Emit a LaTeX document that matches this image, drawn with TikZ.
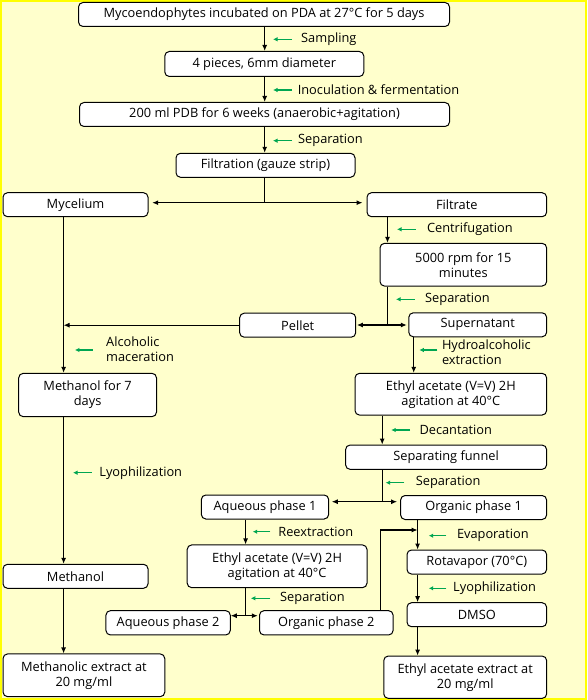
\documentclass[tikz,border=0pt]{standalone}
\usepackage{fontspec}
\setmainfont{Open Sans}
\usetikzlibrary{arrows.meta}
\definecolor{bgyellow}{HTML}{FFFFCC}
\definecolor{edgeyellow}{HTML}{FFFF00}
\definecolor{arrowgreen}{HTML}{00A651}
\tikzset{
  box/.style={draw=black, fill=white, rounded corners=4.5pt, line width=1pt, align=center, inner sep=0pt,
    font=\fontsize{12.8}{15}\selectfont},
  lab/.style={anchor=west, inner sep=0pt, align=left, font=\fontsize{12.8}{14.5}\selectfont},
  conn/.style={line width=1.1pt, draw=black},
  arr/.style={conn, -{Latex[length=6pt,width=5pt]}},
  darr/.style={conn, {Latex[length=6pt,width=5pt]}-{Latex[length=6pt,width=5pt]}},
  garr/.style={draw=arrowgreen, line width=1.2pt, -{Latex[length=4.5pt,width=4.5pt]}},
}
\begin{document}
\begin{tikzpicture}[x=1pt,y=-1pt]
\useasboundingbox (0,0) rectangle (587,700);
\fill[bgyellow] (0,0) rectangle (587,700);
\draw[edgeyellow, line width=2.2pt] (1.1,1.1) rectangle (585.9,698.9);

% boxes
\node[box, minimum width=371pt, minimum height=24pt] (b1) at (264,14.5) {Mycoendophytes incubated on PDA at 27°C for 5 days};
\node[box, minimum width=199pt, minimum height=25pt] (b2) at (264.3,64) {4 pieces, 6mm diameter};
\node[box, minimum width=370pt, minimum height=24pt] (b3) at (264.5,114.5) {200 ml PDB for 6 weeks (anaerobic+agitation)};
\node[box, minimum width=179pt, minimum height=24pt] (b4) at (265.5,165.3) {Filtration (gauze strip)};
\node[box, minimum width=145pt, minimum height=24pt] (myc) at (75.5,204.7) {Mycelium};
\node[box, minimum width=179.6pt, minimum height=24pt] (filt) at (456.8,204.7) {Filtrate};
\node[box, minimum width=166.6pt, minimum height=42.7pt] (cent) at (463.3,264.7) {5000 rpm for 15\\minutes};
\node[box, minimum width=116pt, minimum height=24pt] (pel) at (297.7,325.2) {Pellet};
\node[box, minimum width=137.8pt, minimum height=24pt] (sup) at (477.7,324.8) {Supernatant};
\node[box, minimum width=137.8pt, minimum height=43.3pt] (m7) at (87.6,395) {Methanol for 7\\days};
\node[box, minimum width=191.6pt, minimum height=41.7pt] (eth1) at (450.8,394.2) {Ethyl acetate (V=V) 2H\\agitation at 40°C};
\node[box, minimum width=201pt, minimum height=24.3pt] (sepf) at (446.1,457.2) {Separating funnel};
\node[box, minimum width=127.3pt, minimum height=24pt] (aq1) at (265,507) {Aqueous phase 1};
\node[box, minimum width=146pt, minimum height=24pt] (org1) at (473.6,507.5) {Organic phase 1};
\node[box, minimum width=179.8pt, minimum height=42.7pt] (eth2) at (277.1,566.3) {Ethyl acetate (V=V) 2H\\agitation at 40°C};
\node[box, minimum width=124.3pt, minimum height=24.3pt] (aq2) at (168.1,622.8) {Aqueous phase 2};
\node[box, minimum width=133.6pt, minimum height=24.3pt] (org2) at (326.3,622.8) {Organic phase 2};
\node[box, minimum width=139.6pt, minimum height=24pt] (rot) at (476.8,562) {Rotavapor (70°C)};
\node[box, minimum width=139.6pt, minimum height=24pt] (dmso) at (476.8,614.7) {DMSO};
\node[box, minimum width=145pt, minimum height=24pt] (meth) at (75.5,576.3) {Methanol};
\node[box, minimum width=161.7pt, minimum height=42.7pt] (methx) at (83.9,675.3) {Methanolic extract at\\20 mg/ml};
\node[box, minimum width=162.9pt, minimum height=42.3pt] (ethx) at (465.2,677.2) {Ethyl acetate extract at\\20 mg/ml};

% x positions of vertical connectors
\coordinate (cx) at (264.7,0);
\coordinate (mx) at (63.6,0);
\coordinate (fx) at (387.5,0);
\coordinate (sx) at (413.7,0);
\coordinate (dx) at (382.2,0);
\coordinate (ax) at (245.6,0);
\coordinate (ox) at (417.6,0);
\coordinate (px) at (380.8,0);
% junctions
\coordinate (j1) at (264.7,202.7);
\coordinate (j2) at (387.5,325);
\coordinate (j3) at (382.2,501.7);
\coordinate (j4) at (245.6,615.7);
\coordinate (j5) at (380.8,530);

% main column
\draw[arr] (b1.south -| cx) -- (b2.north -| cx);
\draw[arr] (b2.south -| cx) -- (b3.north -| cx);
\draw[arr] (b3.south -| cx) -- (b4.north -| cx);
\draw[conn] (b4.south -| cx) -- (j1);
\draw[darr] ([xshift=3.7pt]myc.east |- j1) -- ([xshift=-4pt]filt.west |- j1);

% filtrate branch
\draw[arr] (filt.south -| fx) -- (cent.north -| fx);
\draw[conn] (cent.south -| fx) -- (j2);
\draw[darr] ([xshift=0.7pt]pel.east |- j2) -- ([xshift=-1.5pt]sup.west |- j2);
\draw[arr] (pel.west) -- (pel.west -| mx);

% mycelium branch
\draw[arr] (myc.south -| mx) -- (m7.north -| mx);
\draw[arr] (m7.south -| mx) -- (meth.north -| mx);
\draw[arr] (meth.south -| mx) -- (methx.north -| mx);

% supernatant branch
\draw[arr] (sup.south -| sx) -- (eth1.north -| sx);
\draw[arr] (eth1.south -| dx) -- (sepf.north -| dx);
\draw[conn] (sepf.south -| dx) -- (j3);
\draw[darr] ([xshift=2.6pt]aq1.east |- j3) -- ([xshift=-3pt]org1.west |- j3);
\draw[arr] (aq1.south -| ax) -- (eth2.north -| ax);
\draw[conn] (eth2.south -| ax) -- (j4);
\draw[darr] (aq2.east |- j4) -- ([xshift=-1.2pt]org2.west |- j4);
\draw[arr] (org1.south -| ox) -- (rot.north -| ox);
\draw[arr] (org2.north -| px) -- (j5) -- (j5 -| ox);
\draw[arr] (rot.south -| ox) -- (dmso.north -| ox);
\draw[arr] (dmso.south -| ox) -- (ethx.north -| ox);

% green step labels
\node[lab] (l1) at (301,39.3) {Sampling};
\node[lab] (l2) at (297.6,90) {Inoculation \& fermentation};
\node[lab] (l3) at (298,140.7) {Separation};
\node[lab] (l4) at (426.8,229.3) {Centrifugation};
\node[lab] (l5) at (425,299.3) {Separation};
\node[lab] (l6) at (106,349) {Alcoholic\\maceration};
\node[lab] (l7) at (441.8,352) {Hydroalcoholic\\extraction};
\node[lab] (l8) at (419.3,430) {Decantation};
\node[lab] (l9) at (415.6,482.7) {Separation};
\node[lab] (l10) at (99.2,472.7) {Lyophilization};
\node[lab] (l11) at (278.2,531.7) {Reextraction};
\node[lab] (l12) at (456.8,535.7) {Evaporation};
\node[lab] (l13) at (453,588.3) {Lyophilization};
\node[lab] (l14) at (280,598.3) {Separation};

\draw[garr] (292,39.3) -- (273,39.3);
\draw[garr] (292,90) -- (273,90);
\draw[garr] (292,140.7) -- (273,140.7);
\draw[garr] (415.6,229.3) -- (397,229.3);
\draw[garr] (414.8,299.3) -- (396,299.3);
\draw[garr] (92.8,350) -- (74.9,350);
\draw[garr] (437.3,350) -- (419.3,350);
\draw[garr] (410,430) -- (391.2,430);
\draw[garr] (404.3,482.7) -- (385.6,482.7);
\draw[garr] (91.7,472.7) -- (73,472.7);
\draw[garr] (270.3,531.7) -- (252.7,531.7);
\draw[garr] (446.3,535.7) -- (428.7,535.7);
\draw[garr] (446.3,588.3) -- (428.7,588.3);
\draw[garr] (270.3,598.3) -- (250.8,598.3);
\end{tikzpicture}
\end{document}
